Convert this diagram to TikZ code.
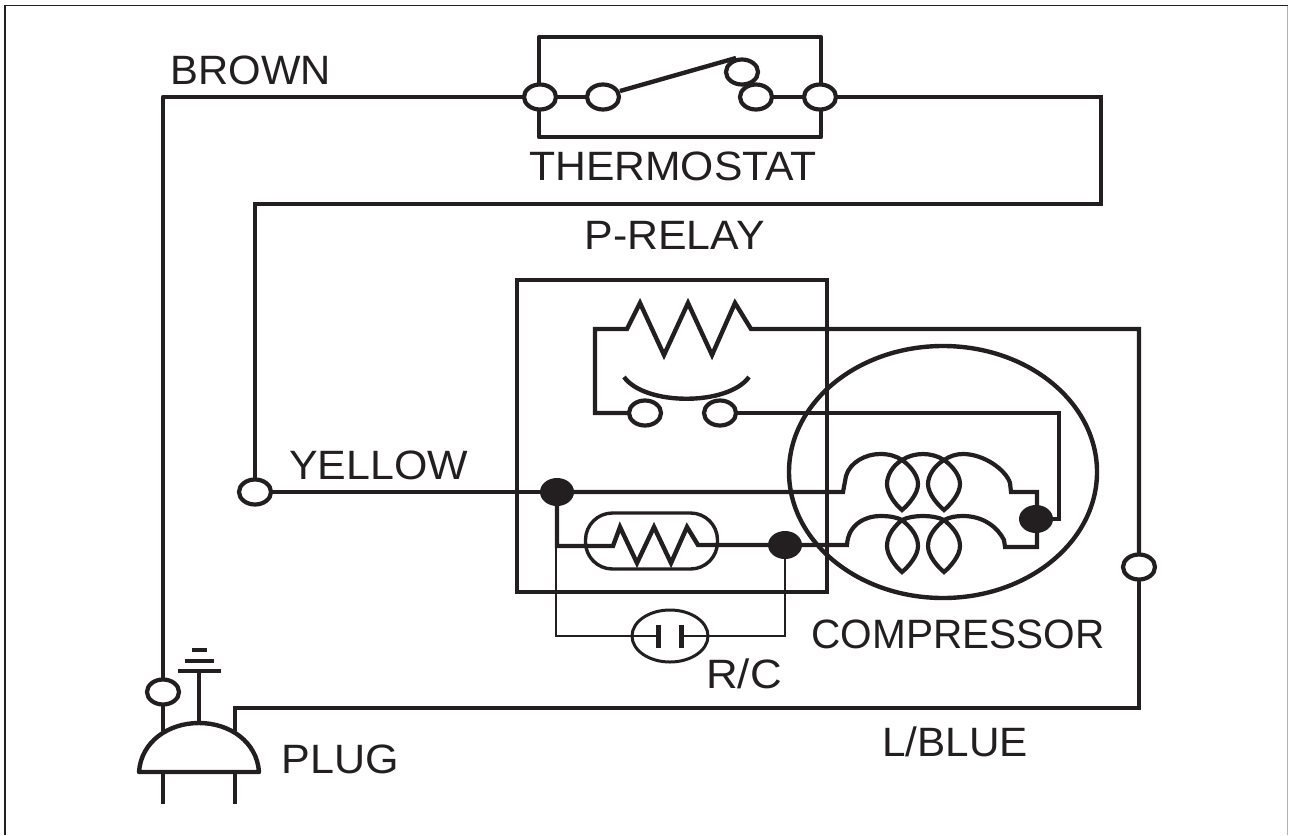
\documentclass[tikz,border=0pt]{standalone}
\usepackage{fontspec}
\setmainfont{Liberation Sans}
\usetikzlibrary{shapes.geometric}
\definecolor{ink}{HTML}{231F20}
\tikzset{
  wire/.style={draw=ink,line width=4.4pt,line join=miter,line cap=butt},
  coilwire/.style={draw=ink,line width=4.2pt,line join=miter,line cap=butt},
  thinwire/.style={draw=ink,line width=1.3pt},
  term/.style={ellipse,draw=ink,line width=4.2pt,fill=white,inner sep=0pt,outer sep=0pt,minimum width=32pt,minimum height=25pt},
  dot/.style={ellipse,draw=ink,line width=1pt,fill=ink,inner sep=0pt,outer sep=0pt,minimum width=33pt,minimum height=27pt},
  lbl/.style={font=\fontsize{41}{41}\selectfont,text=ink,inner sep=0pt},
  pt/.style={coordinate}
}
\newcommand{\stretchlbl}[2]{\scalebox{#1}[1]{#2}}
\begin{document}
\begin{tikzpicture}[x=1pt,y=-1pt]
\useasboundingbox (0,0) rectangle (1289,835);
% frame
\draw[draw=ink,line width=1.6pt] (5,835) -- (5,5.5) -- (1287.5,5.5);
\draw[draw=gray!60,line width=1.2pt] (1287.5,5.5) -- (1287.5,835);

% relay box and compressor
\node[draw=ink,line width=4.4pt,minimum width=310pt,minimum height=312pt,inner sep=0pt,outer sep=0pt] (relay) at (672,436) {};
\node[ellipse,draw=ink,line width=4.4pt,minimum width=308pt,minimum height=252pt,inner sep=0pt,outer sep=0pt] (comp) at (943,472) {};

\coordinate (thTL) at (539,37);
\coordinate (thTR) at (821,37);
\coordinate (thBL) at (539,137);
\coordinate (thBR) at (821,137);
\node[pt] (brB) at (163,97) {};
\node[pt] (thR1) at (1101,97) {};
\node[pt] (thR2) at (1101,204) {};
\node[pt] (yelT) at (255,204) {};
\node[pt] (rTL) at (595,329) {};
\node[pt] (rBL) at (595,413) {};
\node[pt] (rR) at (1139,329) {};
\node[pt] (cR) at (1059,413) {};
\node[pt] (cR2) at (1059,519) {};
\node[pt] (bR) at (1139,708) {};
\node[pt] (bL) at (235,708) {};
\node[pt] (plugN) at (235,731) {};
\node[pt] (plugL) at (163,731) {};
\node[pt] (gnd) at (199,724) {};

% thermostat wiring
\draw[wire,line cap=round,line join=round] (thBL) -- (thTL) -- (thTR) -- (thBR) -- cycle;
\node[term] (t1) at (540,97) {};
\node[term] (t2) at (603,97) {};
\node[term] (t3) at (742,72) {};
\node[term] (t4) at (756,97) {};
\node[term] (t5) at (820,97) {};
\draw[wire] (t1) -- (t2);
\draw[wire] (t4) -- (t5);
\draw[wire] (620,91) -- (736,58);

% supply
\node[term] (tb) at (163,692) {};
\node[term] (ty) at (255,492) {};
\node[term] (tblue) at (1139,567) {};
\draw[wire,line join=round] (t1.west) -- (brB.center) -- (tb.north);
\draw[wire] (t5.east) -- (thR1.center) -- (thR2.center) -- (yelT.center) -- (ty.north);

% P-relay coil and contact
\node[term] (c1) at (645,413) {};
\node[term] (c2) at (720,413) {};
\draw[wire] (c1.west) -- (rBL.center) -- (rTL.center) -- (627,329) -- (640,303) -- (664,355) -- (688,303) -- (712,355) -- (735,303) -- (751,329) -- (rR.center) -- (tblue.north);
\draw[wire] (624,377) .. controls (645,406) and (728,406) .. (749,377);
\draw[wire] (tblue.south) -- (bR.center) -- (bL.center) -- (plugN.center);
\node[dot] (d3) at (1036,519) {};
\draw[wire] (c2.east) -- (cR.center) -- (cR2.center) -- (d3.east);

% junctions
\node[dot] (d1) at (557,492) {};
\node[dot] (d2) at (785,545) {};

% main winding (upper)
\draw[wire] (ty.east) -- (d1.west);
\draw[coilwire] (d1.east) -- (843,492) -- (846,476)
  .. controls (850,462) and (866,454) .. (880,454)
  .. controls (889,454) and (896,456) .. (902,460)
  .. controls (892,466) and (887,476) .. (887,484)
  .. controls (887,494) and (896,505) .. (902,510)
  .. controls (908,505) and (918,494) .. (918,484)
  .. controls (918,474) and (908,464) .. (902,460)
  .. controls (908,456) and (916,454) .. (923,454)
  .. controls (930,454) and (938,456) .. (944,460)
  .. controls (934,466) and (928,476) .. (928,484)
  .. controls (928,494) and (938,505) .. (944,510)
  .. controls (950,505) and (960,494) .. (960,484)
  .. controls (960,474) and (950,464) .. (944,460)
  .. controls (950,456) and (956,454) .. (963,454)
  .. controls (984,454) and (1006,470) .. (1010,483)
  -- (1011,492) -- (1037,492) -- (1037,506);
% start winding (lower)
\draw[coilwire] (1037,532) -- (1037,547) -- (1005,547) -- (1004,540)
  .. controls (998,528) and (984,516) .. (963,516)
  .. controls (956,516) and (950,517) .. (944,520)
  .. controls (950,525) and (960,534) .. (960,546)
  .. controls (960,556) and (950,567) .. (944,572)
  .. controls (938,567) and (928,556) .. (928,546)
  .. controls (928,534) and (938,525) .. (944,520)
  .. controls (938,517) and (930,516) .. (923,516)
  .. controls (916,516) and (908,517) .. (902,520)
  .. controls (908,525) and (918,534) .. (918,546)
  .. controls (918,556) and (908,567) .. (902,572)
  .. controls (896,567) and (887,556) .. (887,546)
  .. controls (887,534) and (896,525) .. (902,520)
  .. controls (896,517) and (889,516) .. (880,516)
  .. controls (866,516) and (848,524) .. (847,545)
  -- (d2.east);

% PTC
\node[draw=ink,line width=3.4pt,rounded corners=27pt,minimum width=132pt,minimum height=56pt,inner sep=0pt,outer sep=0pt] (ptc) at (651.5,541) {};
\draw[wire] (d1.south) -- (557,546) -- (613,546) -- (620,527) -- (637,563) -- (654,527) -- (671,563) -- (687,527) -- (698,545) -- (d2.west);

% run capacitor
\node[ellipse,draw=ink,line width=3pt,minimum width=76pt,minimum height=52pt,inner sep=0pt,outer sep=0pt] (cap) at (670,636) {};
\node[pt] (pl1) at (658,636) {};
\node[pt] (pl2) at (681,636) {};
\node[pt] (capL) at (556,636) {};
\node[pt] (capR) at (785,636) {};
\draw[thinwire] (556,546) -- (capL.center) -- (pl1.center);
\draw[thinwire] (d2.south) -- (capR.center) -- (pl2.center);
\draw[draw=ink,line width=5pt] (658,625) -- (658,648);
\draw[draw=ink,line width=5pt] (681,625) -- (681,648);

% plug
\draw[wire,line join=round] (139,772) .. controls (141,742) and (168,723) .. (199,723) .. controls (230,723) and (257,742) .. (259,772) -- cycle;
\draw[wire] (tb.south) -- (plugL.center);
\draw[wire] (163,772) -- (163,804);
\draw[wire] (235,772) -- (235,804);
\node[pt] (gt) at (199,671) {};
\draw[wire] (gnd.center) -- (gt.center);
\draw[wire] (178,671) -- (221,671);
\draw[wire] (185,661) -- (214,661);
\draw[wire] (192,650) -- (207,650);

% labels
\node[lbl] (lb1) at (251,70.5) {\stretchlbl{1.02}{BROWN}};
\node[lbl] (lb2) at (673,166) {\stretchlbl{1.04}{THERMOSTAT}};
\node[lbl] (lb3) at (674.5,235) {\stretchlbl{1.045}{P-RELAY}};
\node[lbl] (lb4) at (378.5,465) {\stretchlbl{1.047}{YELLOW}};
\node[lbl] (lb5) at (958,634) {\stretchlbl{0.99}{COMPRESSOR}};
\node[lbl] (lb6) at (744,674) {\stretchlbl{1.07}{R/C}};
\node[lbl] (lb7) at (955,742) {\stretchlbl{1.03}{L/BLUE}};
\node[lbl] (lb8) at (340.5,759) {\stretchlbl{1.05}{PLUG}};
\end{tikzpicture}
\end{document}
